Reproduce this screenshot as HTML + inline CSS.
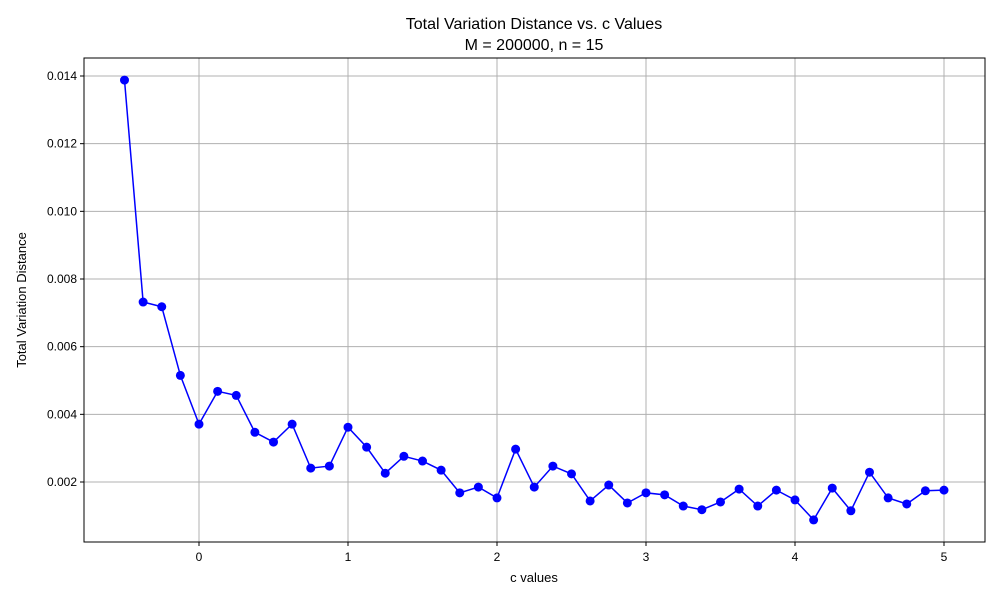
<!DOCTYPE html>
<html><head><meta charset="utf-8"><style>
body{margin:0;background:#fff;}
svg text{font-family:"Liberation Sans","DejaVu Sans",sans-serif;fill:#000;}
</style></head><body>
<svg id="chart" width="1000" height="600" xmlns="http://www.w3.org/2000/svg">
<rect width="1000" height="600" fill="#fff"/>
<g id="grid"></g>
<g id="series"></g>
<rect x="84" y="58" width="901" height="484" fill="none" stroke="#000" stroke-width="1"/>
<g id="axes"></g>
<text x="534" y="29" text-anchor="middle" font-size="16">Total Variation Distance vs. c Values</text>
<text x="534" y="50" text-anchor="middle" font-size="16">M = 200000, n = 15</text>
<text x="534" y="582" text-anchor="middle" font-size="13">c values</text>
<text x="26" y="300" text-anchor="middle" font-size="13" transform="rotate(-90 26 300)">Total Variation Distance</text>
</svg>
<script>
const cValues=[-0.5,-0.375,-0.25,-0.125,0,0.125,0.25,0.375,0.5,0.625,0.75,0.875,1,1.125,1.25,1.375,1.5,1.625,1.75,1.875,2,2.125,2.25,2.375,2.5,2.625,2.75,2.875,3,3.125,3.25,3.375,3.5,3.625,3.75,3.875,4,4.125,4.25,4.375,4.5,4.625,4.75,4.875,5];
const tvd=[0.01388,0.00732,0.00718,0.00515,0.00371,0.00468,0.00456,0.00347,0.00318,0.00371,0.00241,0.00247,0.00362,0.00303,0.00226,0.00276,0.00262,0.00235,0.00168,0.00185,0.00153,0.00297,0.00185,0.00247,0.00224,0.00144,0.00191,0.00138,0.00168,0.00162,0.00129,0.00118,0.00141,0.00179,0.00129,0.00176,0.00147,0.00088,0.00182,0.00115,0.00229,0.00153,0.00135,0.00174,0.00176];
const xTicks=[0,1,2,3,4,5];
const yTicks=[0.002,0.004,0.006,0.008,0.010,0.012,0.014];
const xs=c=>199+c*149;
const ys=v=>482-(v-0.002)*33833;
const NS="http://www.w3.org/2000/svg";
function mk(tag,attrs,parent){const e=document.createElementNS(NS,tag);for(const k in attrs)e.setAttribute(k,attrs[k]);parent.appendChild(e);return e;}
const grid=document.getElementById('grid'),axes=document.getElementById('axes'),ser=document.getElementById('series');
xTicks.forEach(t=>{const x=xs(t);
 const g=mk('line',{x1:x,x2:x,y1:58,y2:542,stroke:'#b0b0b0','stroke-width':1},grid);
 
 
 const tk=mk('line',{x1:x,x2:x,y1:542,y2:546,stroke:'#000'},axes);
 
 
 const tx=mk('text',{x:x,y:561,'text-anchor':'middle','font-size':12},axes);tx.textContent=String(t);
 
 
});
yTicks.forEach(t=>{const y=ys(t);
 const g=mk('line',{x1:84,x2:985,y1:y,y2:y,stroke:'#b0b0b0','stroke-width':1},grid);
 
 
 const tk=mk('line',{x1:80,x2:84,y1:y,y2:y,stroke:'#000'},axes);
 
 
 const tx=mk('text',{x:77,y:y+4,'text-anchor':'end','font-size':12},axes);tx.textContent=t.toFixed(3);
 
 
});
const pts=cValues.map((c,i)=>xs(c)+','+ys(tvd[i])).join(' ');
const line=mk('polyline',{points:pts,fill:'none',stroke:'#0000ff','stroke-width':1.5},ser);


cValues.forEach((c,i)=>{
 const p=mk('circle',{cx:xs(c),cy:ys(tvd[i]),r:4.5,fill:'#0000ff'},ser);
 
 
});
</script>
</body></html>
